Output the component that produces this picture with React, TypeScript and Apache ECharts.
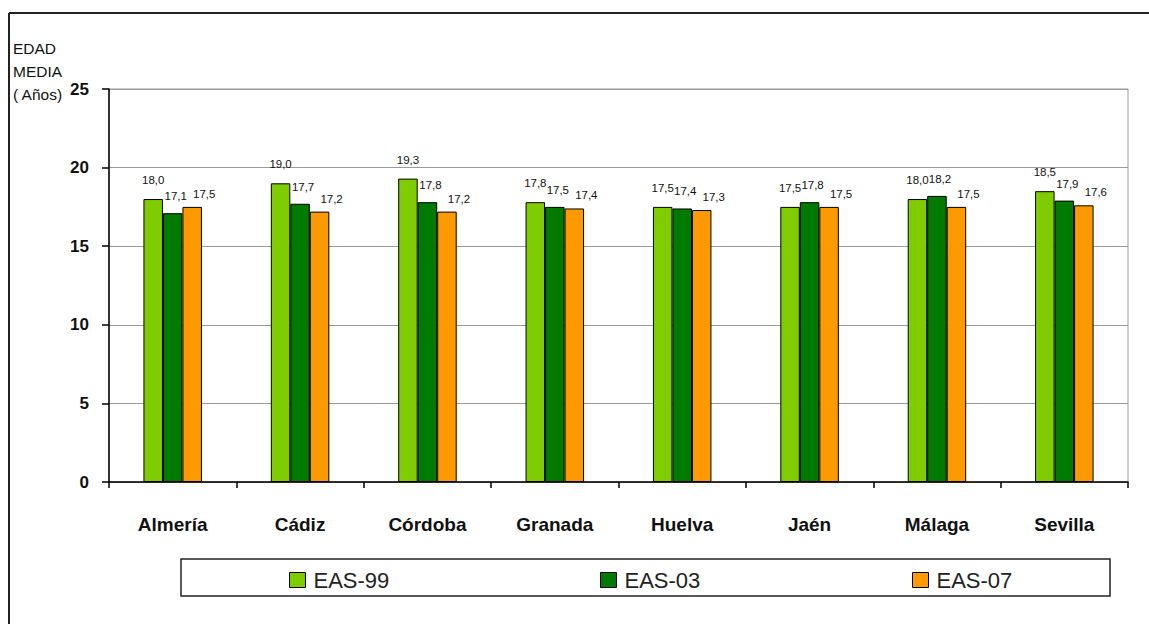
import React, { useEffect, useRef } from "react";
import * as echarts from "echarts";

const categories = ["Almería", "Cádiz", "Córdoba", "Granada", "Huelva", "Jaén", "Málaga", "Sevilla"];
const eas99 = [18.0, 19.0, 19.3, 17.8, 17.5, 17.5, 18.0, 18.5];
const eas03 = [17.1, 17.7, 17.8, 17.5, 17.4, 17.8, 18.2, 17.9];
const eas07 = [17.5, 17.2, 17.2, 17.4, 17.3, 17.5, 17.5, 17.6];
const seriesNames = ["EAS-99", "EAS-03", "EAS-07"];
const yTitle = ["EDAD", "MEDIA", "( Años)"];

const colors = ["#7FCC00", "#007A00", "#FF9900"];
const FONT = "'Liberation Sans', Arial, sans-serif";

export default function App() {
  const ref = useRef<HTMLDivElement>(null);
  useEffect(() => {
    document.body.style.margin = "0";
    const chart = echarts.init(ref.current!, null, { renderer: "svg" });
    const fmt = (p: any) => Number(p.value).toFixed(1).replace(".", ",");
    const mk = (name: string, data: number[], color: string, dist: number, dx: number) => ({
      name,
      type: "bar",
      data,
      barWidth: 19.5,
      barGap: "0%",
      itemStyle: { color, borderColor: "#000", borderWidth: 1 },
      label: {
        show: true,
        position: "top",
        distance: dist,
        offset: [dx, 0],
        formatter: fmt,
        color: "#111",
        fontSize: 11.5,
        fontFamily: FONT,
      },
    });
    const legendLefts = [289, 600, 912];
    const titleTops = [40, 63, 86];
    chart.setOption({
      animation: false,
      backgroundColor: "#fff",
      grid: { left: 109, right: 21, top: 89, bottom: 142, show: true, borderColor: "#9a9a9a", borderWidth: 1 },
      xAxis: {
        type: "category",
        data: categories,
        axisLine: { lineStyle: { color: "#000", width: 1.5 } },
        axisTick: { show: true, length: 6, lineStyle: { color: "#000", width: 1.5 } },
        axisLabel: { margin: 33, color: "#111", fontSize: 19, fontWeight: "bold", fontFamily: FONT },
      },
      yAxis: {
        type: "value",
        min: 0,
        max: 25,
        interval: 5,
        axisLine: { show: true, lineStyle: { color: "#000", width: 1.5 } },
        axisTick: { show: true, length: 7, lineStyle: { color: "#000", width: 1.5 } },
        axisLabel: { margin: 20, color: "#111", fontSize: 17, fontWeight: "bold", fontFamily: FONT },
        splitLine: { lineStyle: { color: "#9a9a9a", width: 1 } },
      },
      legend: seriesNames.map((n, i) => ({
        data: [n],
        left: legendLefts[i],
        top: 569,
        padding: 0,
        itemWidth: 16,
        itemHeight: 15,
        icon: "rect",
        itemStyle: { borderColor: "#000", borderWidth: 1 },
        textStyle: { fontSize: 22, color: "#222", fontFamily: FONT, padding: [0, 0, 0, 3] },
      })),
      graphic: [
        { type: "line", shape: { x1: 9, y1: 13, x2: 1149, y2: 13 }, style: { stroke: "#222", lineWidth: 2 } },
        { type: "line", shape: { x1: 9, y1: 13, x2: 9, y2: 624 }, style: { stroke: "#222", lineWidth: 2 } },
        { type: "rect", shape: { x: 181, y: 559, width: 929, height: 37 }, style: { fill: "none", stroke: "#222", lineWidth: 1.5 }, z: -1 },
        ...yTitle.map((t, i) => ({
          type: "text",
          left: 13,
          top: titleTops[i],
          style: { text: t, fontSize: 15.5, fontFamily: FONT, fill: "#111" },
        })),
      ],
      series: [
        mk(seriesNames[0], eas99, colors[0], 13, 0),
        mk(seriesNames[1], eas03, colors[1], 11, 3),
        mk(seriesNames[2], eas07, colors[2], 7, 12),
      ],
    });
    return () => chart.dispose();
  }, []);
  return <div ref={ref} style={{ width: 1149, height: 624 }} />;
}
